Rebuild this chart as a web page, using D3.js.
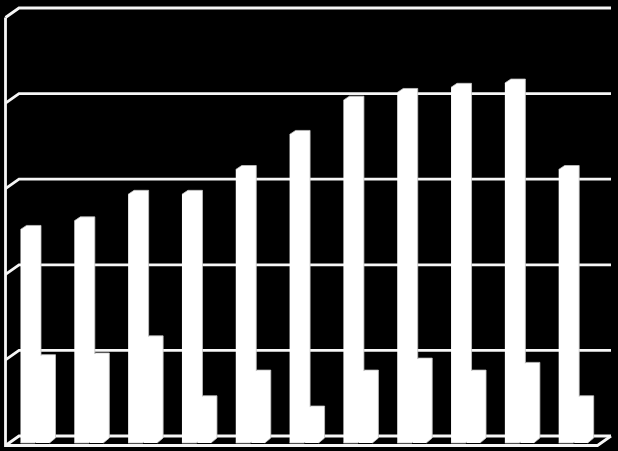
<!DOCTYPE html>
<html>
<head>
<meta charset="utf-8">
<script src="https://cdn.jsdelivr.net/npm/d3@7"></script>
<style>
  html, body { margin: 0; padding: 0; background: #000; overflow: hidden; }
  svg { display: block; }
</style>
</head>
<body>
<script>
// values
const categories = ["1", "2", "3", "4", "5", "6", "7", "8", "9", "10", "11"];
const tallValues = [24.6, 25.6, 28.7, 28.7, 31.6, 35.7, 39.7, 40.6, 41.2, 41.7, 31.6];
const shortValues = [9.5, 9.7, 11.7, 4.7, 7.7, 3.5, 7.7, 9.1, 7.7, 8.6, 4.7];
const yTicks = [0, 10, 20, 30, 40, 50];

const width = 618, height = 451;
const depthX = 13.5, depthY = -9.5;   // the fake 3d offset of the back wall
const left = 5.5, right = 597.5, floorY = 436, topY = 8;

const svg = d3.select("body").append("svg")
    .attr("width", width)
    .attr("height", height);

const x = d3.scaleBand().domain(categories).range([left, right]);
const y = d3.scaleLinear().domain([0, 50]).range([floorY, topY]);

// Walls and gridlines
const grid = svg.append("g")
    .attr("fill", "none")
    .attr("stroke", "#f6f6f6")
    .attr("stroke-width", 2.8);

grid.selectAll("path.gridline")
    .data(yTicks)
    .join("path")
    .attr("class", "gridline")
    .attr("d", d => d3.line()([
        [left, y(d) - depthY],
        [left + depthX, y(d)],
        [right + depthX, y(d)]
    ]));

// left wall and the front and right edges of the floor
grid.append("path")
    .attr("d", d3.line()([
        [left, y(50) - depthY],
        [left, y(0) - depthY],
        [right, y(0) - depthY],
        [right + depthX, y(0)]
    ]));

// Bars: chamfered corners stand in for the 3d bevel
function barPath (x0, w, top) {
    const base = floorY + 7, c = 6;
    return d3.line()([
        [x0, top + 4],
        [x0 + c, top],
        [x0 + w, top],
        [x0 + w, base - 5],
        [x0 + w - c, base],
        [x0, base]
    ]);
}

const bars = svg.append("g")
    .attr("fill", "#fff")
    .attr("stroke", "#c4c4c4")
    .attr("stroke-width", 0.8);

bars.selectAll("path.tall")
    .data(categories)
    .join("path")
    .attr("class", "tall")
    .attr("d", (d, i) => barPath(x(d) + 15, 20.5, y(tallValues[i])));

bars.selectAll("path.short")
    .data(categories)
    .join("path")
    .attr("class", "short")
    .attr("stroke", "none")
    .attr("d", (d, i) => barPath(x(d) + 30.5, 19.5, y(shortValues[i])));

// outline only on the visible top and right of the short bars
bars.selectAll("path.shortEdge")
    .data(categories)
    .join("path")
    .attr("class", "shortEdge")
    .attr("fill", "none")
    .attr("d", (d, i) => d3.line()([
        [x(d) + 35.5, y(shortValues[i])],
        [x(d) + 50, y(shortValues[i])],
        [x(d) + 50, floorY + 2],
        [x(d) + 44, floorY + 7]
    ]));
</script>
</body>
</html>
